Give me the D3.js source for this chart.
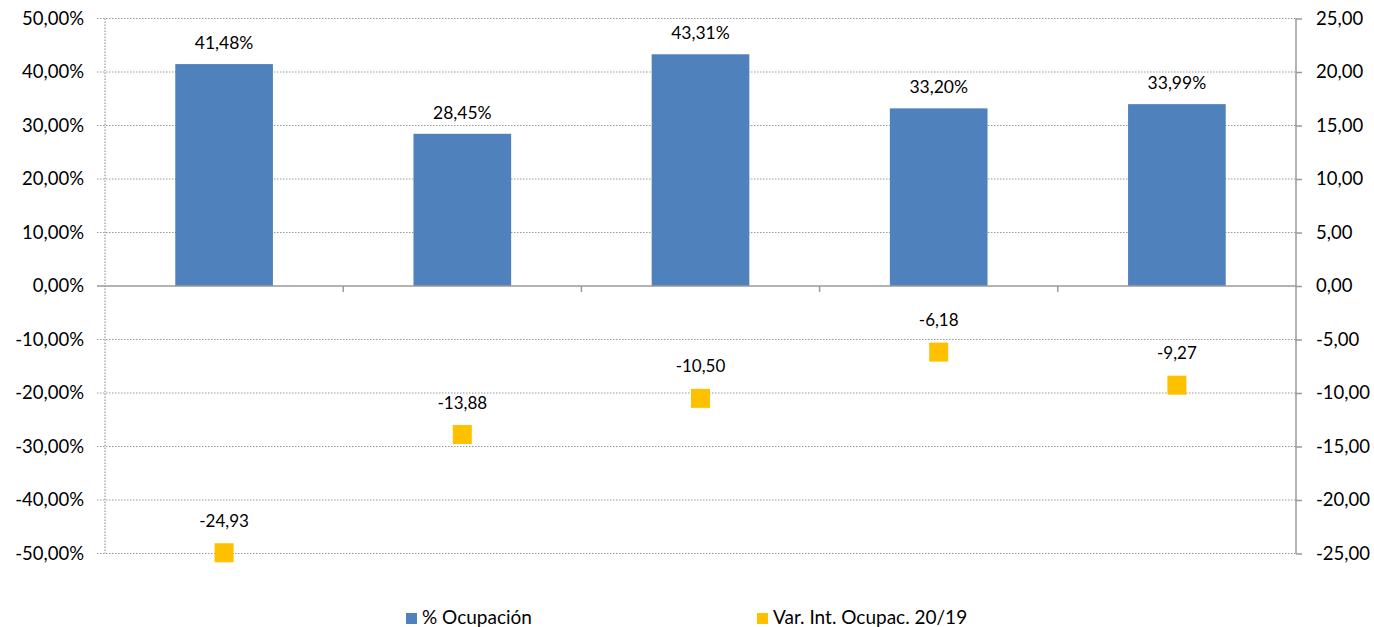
<!DOCTYPE html>
<html><head><meta charset="utf-8">
<script src="https://cdn.jsdelivr.net/npm/d3@7"></script>
<style>body{margin:0;background:#fff}text{font-family:Lato,"Open Sans",sans-serif;fill:#000}</style>
</head><body><svg id="c" width="1374" height="627"></svg>
<script>
const categories = ["C1","C2","C3","C4","C5"];
const ocupacion = [41.48, 28.45, 43.31, 33.20, 33.99];
const variacion = [-24.93, -13.88, -10.50, -6.18, -9.27];
const leftTicks = [-50,-40,-30,-20,-10,0,10,20,30,40,50];
const rightTicks = [-25,-20,-15,-10,-5,0,5,10,15,20,25];
const seriesNames = ["% Ocupación","Var. Int. Ocupac. 20/19"];

const svg = d3.select("#c");
const L = 105, R = 1296, T = 18.5, B = 553.5;
const fmt = v => v.toFixed(2).replace(".", ",");
const x = d3.scaleBand().domain(categories).range([L, R]).paddingInner(0.59).paddingOuter(0.295);
const xc = d3.scaleBand().domain(categories).range([L, R]);
const yL = d3.scaleLinear().domain([-50, 50]).range([B, T]);
const yR = d3.scaleLinear().domain([-25, 25]).range([B, T]);
const grey = "#9a9a9a";

// gridlines (dotted)
svg.append("g").selectAll("line").data(leftTicks.filter(d => d !== 0)).join("line")
  .attr("x1", L - 8).attr("x2", R).attr("y1", d => yL(d)).attr("y2", d => yL(d))
  .attr("stroke", grey).attr("stroke-width", 1.2).attr("stroke-dasharray", "1.5,1.5");
// left axis dotted
svg.append("line").attr("x1", L).attr("x2", L).attr("y1", T).attr("y2", B)
  .attr("stroke", grey).attr("stroke-width", 1.2).attr("stroke-dasharray", "1.5,1.5");

// bars
svg.append("g").selectAll("rect").data(ocupacion).join("rect")
  .attr("x", (d, i) => x(categories[i])).attr("width", x.bandwidth())
  .attr("y", d => yL(d)).attr("height", d => yL(0) - yL(d)).attr("fill", "#4F81BD");

// zero line & category ticks
svg.append("line").attr("x1", L - 8).attr("x2", R).attr("y1", yL(0)).attr("y2", yL(0))
  .attr("stroke", grey).attr("stroke-width", 1.5);
svg.append("g").selectAll("line").data(categories.slice(1)).join("line")
  .attr("x1", d => xc(d)).attr("x2", d => xc(d)).attr("y1", yL(0)).attr("y2", yL(0) + 6)
  .attr("stroke", grey).attr("stroke-width", 1.5);

// right axis
const ra = svg.append("g").attr("transform", `translate(${R},0)`)
  .call(d3.axisRight(yR).tickValues(rightTicks).tickSize(6).tickPadding(14).tickFormat(fmt));
ra.select(".domain").attr("stroke", grey).attr("stroke-width", 1.5).attr("d", `M0,${T}V${B}`);
ra.selectAll(".tick line").attr("stroke", grey).attr("stroke-width", 1.5);
ra.selectAll("text").style("font-size", "18.5px").attr("fill", "#000").attr("font-family", null);

// left labels
const la = svg.append("g").attr("transform", `translate(${L - 8},0)`)
  .call(d3.axisLeft(yL).tickValues(leftTicks).tickSize(0).tickPadding(13).tickFormat(d => fmt(d) + "%"));
la.select(".domain").remove();
la.selectAll("text").style("font-size", "18.5px").attr("fill", "#000").attr("font-family", null);

// bar labels
svg.append("g").selectAll("text").data(ocupacion).join("text")
  .attr("x", (d, i) => xc(categories[i]) + xc.bandwidth() / 2).attr("y", d => yL(d) - 15)
  .attr("text-anchor", "middle").style("font-size", "17.5px").text(d => fmt(d) + "%");

// markers
const ms = 19;
svg.append("g").selectAll("rect").data(variacion).join("rect")
  .attr("x", (d, i) => xc(categories[i]) + xc.bandwidth() / 2 - ms / 2)
  .attr("y", d => yR(d) - ms / 2).attr("width", ms).attr("height", ms).attr("fill", "#FFC000");
svg.append("g").selectAll("text").data(variacion).join("text")
  .attr("x", (d, i) => xc(categories[i]) + xc.bandwidth() / 2).attr("y", d => yR(d) - 26)
  .attr("text-anchor", "middle").style("font-size", "17px").text(d => fmt(d));

// legend
const leg = svg.append("g");
const lx = [406, 757];
const lc = ["#4F81BD", "#FFC000"];
seriesNames.forEach((n, i) => {
  leg.append("rect").attr("x", lx[i]).attr("y", 613).attr("width", 11).attr("height", 11).attr("fill", lc[i]);
  leg.append("text").attr("x", lx[i] + 16).attr("y", 623.5).style("font-size", "19px").text(n);
});
</script></body></html>
